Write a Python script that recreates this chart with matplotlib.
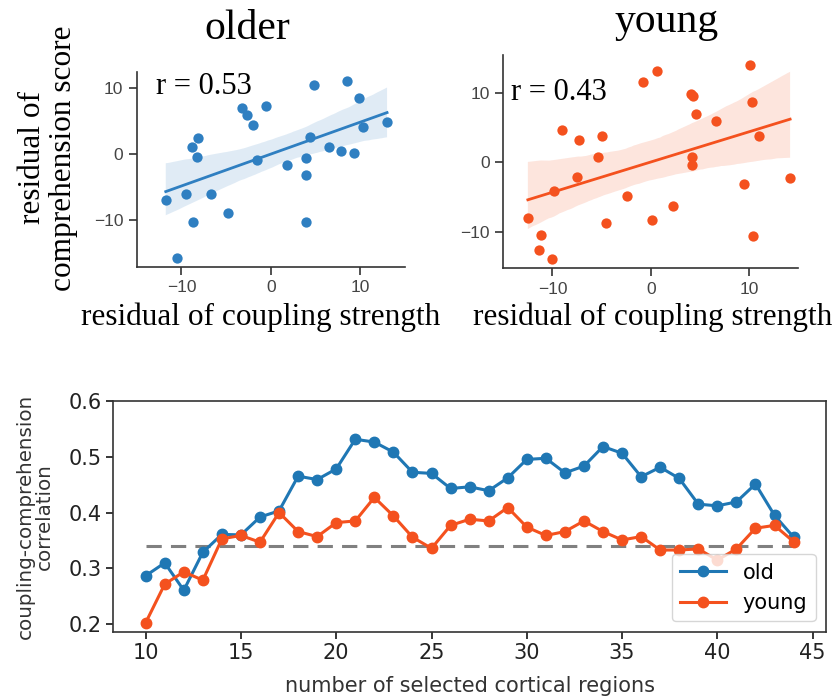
import numpy as np
import matplotlib
matplotlib.use("Agg")
import matplotlib.pyplot as plt
import seaborn as sns

# ---- data ----
older_x = [-11.75, -10.45, -9.5, -8.73, -8.8, -8.13, -8.25, -6.68, -4.78, -3.2, -2.69, -2.05,
           -1.53, -0.52, 1.79, 3.92, 3.92, 3.92, 4.4, 4.78, 6.49, 7.8, 8.47, 9.33, 9.81, 10.26, 12.99]
older_y = [-6.9, -15.7, -6.05, -10.2, 1.06, 2.42, -0.45, -6.05, -8.9, 6.9, 5.9, 4.43,
           -0.96, 7.3, -1.66, -0.55, -3.22, -10.3, 2.57, 10.4, 1.0, 0.45, 11.0, 0.15, 8.36, 4.08, 4.79]
young_x = [-12.5, -11.14, -11.34, -10.05, -9.85, -9.0, -7.33, -7.54, -5.4, -4.96, -4.52, -2.38,
           -0.78, 0.14, 0.65, 2.28, 4.07, 4.28, 4.58, 4.21, 4.14, 6.59, 9.44, 10.12, 10.29, 10.36,
           11.04, 14.16]
young_y = [-8.1, -10.5, -12.7, -14.0, -4.18, 4.71, 3.22, -2.07, 0.77, 3.75, -8.7, -4.8,
           11.63, -8.37, 13.2, -6.35, 9.86, 9.57, 6.97, 0.77, -0.38, 6.0, -3.08, 14.04, 8.7, -10.6,
           3.8, -2.3]
r_older = "r = 0.53"
r_young = "r = 0.43"

n_regions = list(range(10, 45))
corr_old = [0.287, 0.310, 0.261, 0.329, 0.361, 0.360, 0.392, 0.403, 0.465, 0.459, 0.478, 0.531,
            0.526, 0.508, 0.472, 0.470, 0.443, 0.446, 0.439, 0.462, 0.495, 0.497, 0.471, 0.483,
            0.518, 0.506, 0.464, 0.481, 0.461, 0.415, 0.412, 0.419, 0.451, 0.395, 0.356]
corr_young = [0.203, 0.272, 0.294, 0.279, 0.353, 0.359, 0.347, 0.400, 0.366, 0.357, 0.382, 0.385,
              0.427, 0.394, 0.356, 0.336, 0.377, 0.388, 0.385, 0.409, 0.374, 0.359, 0.366, 0.385,
              0.366, 0.351, 0.357, 0.333, 0.333, 0.335, 0.315, 0.335, 0.372, 0.377, 0.348]
threshold = 0.34

BLUE = "#2f7fc1"
ORANGE = "#f4511e"
SERIF = ["Liberation Serif", "DejaVu Serif"]
SANS = ["Liberation Sans", "DejaVu Sans"]

fig = plt.figure(figsize=(8.36, 7.0), dpi=100)

def style_scatter_ax(ax):
    for s in ["top", "right"]:
        ax.spines[s].set_visible(False)
    for s in ["left", "bottom"]:
        ax.spines[s].set_color("#333333")
        ax.spines[s].set_linewidth(1.2)
    ax.tick_params(axis="both", direction="out", length=6, width=1.2, color="#333333",
                   labelsize=12.5, labelcolor="#444444")
    ax.set_xticks([-10, 0, 10])
    ax.set_yticks([-10, 0, 10])
    for lab in ax.get_xticklabels() + ax.get_yticklabels():
        lab.set_family(SANS)
    ax.set_xlabel("")
    ax.set_ylabel("")

ax1 = fig.add_axes([0.1635, 0.619, 0.321, 0.2786])
sns.regplot(x=np.array(older_x), y=np.array(older_y), ax=ax1, color=BLUE, seed=0,
            scatter_kws=dict(s=55, alpha=1, linewidths=0), line_kws=dict(lw=2),
            truncate=True)
ax1.set_xlim(-15, 15)
ax1.set_ylim(-17, 12.4)
style_scatter_ax(ax1)
ax1.text(-12.8, 9.0, r_older, fontsize=22, family=SERIF, va="baseline")

ax2 = fig.add_axes([0.602, 0.6167, 0.353, 0.305])
sns.regplot(x=np.array(young_x), y=np.array(young_y), ax=ax2, color=ORANGE, seed=0,
            scatter_kws=dict(s=55, alpha=1, linewidths=0), line_kws=dict(lw=2),
            truncate=True)
ax2.set_xlim(-15, 15)
ax2.set_ylim(-15.3, 15.5)
style_scatter_ax(ax2)
ax2.text(-14.2, 9.0, r_young, fontsize=22, family=SERIF, va="baseline")

fig.text(247 / 836, 1 - 39 / 700, "older", fontsize=30, family=SERIF, ha="center", va="baseline")
fig.text(667 / 836, 1 - 32 / 700, "young", fontsize=30, family=SERIF, ha="center", va="baseline")
fig.text(261 / 836, 1 - 325 / 700, "residual of coupling strength", fontsize=22.5, family=SERIF,
         ha="center", va="baseline")
fig.text(653 / 836, 1 - 325 / 700, "residual of coupling strength", fontsize=22.5, family=SERIF,
         ha="center", va="baseline")
fig.text(48 / 836, 1 - 158 / 700, "residual of\ncomprehension score", fontsize=22.5, family=SERIF,
         ha="center", va="center", rotation=90, linespacing=1.05)

ax3 = fig.add_axes([0.1355, 0.0976, 0.8525, 0.33])
ax3.plot(n_regions, corr_old, "-o", color="#1f77b4", lw=2.2, ms=7.5, label="old")
ax3.plot(n_regions, corr_young, "-o", color=ORANGE, lw=2.2, ms=7.5, label="young")
ax3.plot([n_regions[0], n_regions[-1]], [threshold, threshold], "--", color="#808080", lw=2.2,
         dashes=(5, 3), zorder=1)
ax3.set_ylim(0.187, 0.6)
ax3.set_yticks([0.2, 0.3, 0.4, 0.5, 0.6])
ax3.set_xticks([10, 15, 20, 25, 30, 35, 40, 45])
ax3.tick_params(labelsize=15, length=5, width=1.1, labelcolor="#222222")
for s in ax3.spines.values():
    s.set_linewidth(1.2)
    s.set_color("#333333")
ax3.set_xlabel("number of selected cortical regions", fontsize=15, color="#333333", labelpad=9)
ax3.set_ylabel("coupling-comprehension\ncorrelation", fontsize=14.3, color="#333333",
               labelpad=10, linespacing=1.05)
ax3.legend(loc="lower right", fontsize=15, framealpha=0.8, handlelength=2.2,
           borderaxespad=0.5)

fig.savefig("out.png", dpi=100)
